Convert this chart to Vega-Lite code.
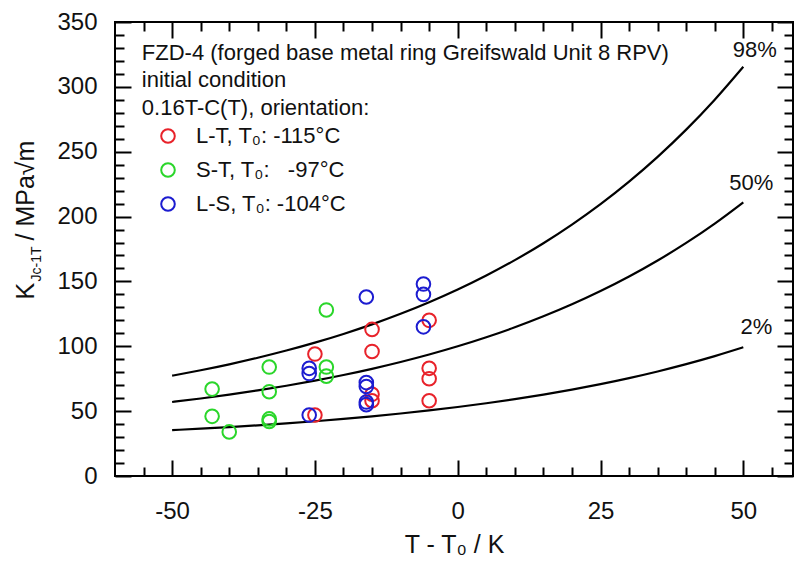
{
  "$schema": "https://vega.github.io/schema/vega-lite/v6.json",
  "width": 678,
  "height": 454,
  "autosize": {"type": "none"},
  "padding": {"left": 115, "top": 22, "right": 1, "bottom": 89},
  "background": "white",
  "config": {
    "view": {"stroke": "black", "strokeWidth": 2},
    "font": "Liberation Sans",
    "axis": {
      "grid": false,
      "domain": false,
      "tickColor": "black",
      "tickWidth": 2,
      "labelFont": "Liberation Sans",
      "labelFontSize": 24,
      "labelColor": "#111",
      "titleFont": "Liberation Sans",
      "titleFontWeight": "normal",
      "titleColor": "#111"
    }
  },
  "datasets": {
    "curves": [
      {"T": -50, "K": 35.37, "p": "2%"}, {"T": -45, "K": 36.49, "p": "2%"}, {"T": -40, "K": 37.72, "p": "2%"}, {"T": -35, "K": 39.08, "p": "2%"}, {"T": -30, "K": 40.56, "p": "2%"}, {"T": -25, "K": 42.2, "p": "2%"}, {"T": -20, "K": 44.0, "p": "2%"}, {"T": -15, "K": 45.98, "p": "2%"}, {"T": -10, "K": 48.16, "p": "2%"}, {"T": -5, "K": 50.55, "p": "2%"}, {"T": 0, "K": 53.18, "p": "2%"}, {"T": 5, "K": 56.07, "p": "2%"}, {"T": 10, "K": 59.25, "p": "2%"}, {"T": 15, "K": 62.75, "p": "2%"}, {"T": 20, "K": 66.6, "p": "2%"}, {"T": 25, "K": 70.83, "p": "2%"}, {"T": 30, "K": 75.48, "p": "2%"}, {"T": 35, "K": 80.6, "p": "2%"}, {"T": 40, "K": 86.22, "p": "2%"}, {"T": 45, "K": 92.41, "p": "2%"}, {"T": 50, "K": 99.21, "p": "2%"},
      {"T": -50, "K": 57.07, "p": "50%"}, {"T": -45, "K": 59.77, "p": "50%"}, {"T": -40, "K": 62.74, "p": "50%"}, {"T": -35, "K": 66.0, "p": "50%"}, {"T": -30, "K": 69.59, "p": "50%"}, {"T": -25, "K": 73.53, "p": "50%"}, {"T": -20, "K": 77.87, "p": "50%"}, {"T": -15, "K": 82.64, "p": "50%"}, {"T": -10, "K": 87.89, "p": "50%"}, {"T": -5, "K": 93.66, "p": "50%"}, {"T": 0, "K": 100.0, "p": "50%"}, {"T": 5, "K": 106.98, "p": "50%"}, {"T": 10, "K": 114.64, "p": "50%"}, {"T": 15, "K": 123.09, "p": "50%"}, {"T": 20, "K": 132.36, "p": "50%"}, {"T": 25, "K": 142.56, "p": "50%"}, {"T": 30, "K": 153.78, "p": "50%"}, {"T": 35, "K": 166.12, "p": "50%"}, {"T": 40, "K": 179.68, "p": "50%"}, {"T": 45, "K": 194.6, "p": "50%"}, {"T": 50, "K": 211.0, "p": "50%"},
      {"T": -50, "K": 77.35, "p": "98%"}, {"T": -45, "K": 81.53, "p": "98%"}, {"T": -40, "K": 86.11, "p": "98%"}, {"T": -35, "K": 91.16, "p": "98%"}, {"T": -30, "K": 96.71, "p": "98%"}, {"T": -25, "K": 102.82, "p": "98%"}, {"T": -20, "K": 109.53, "p": "98%"}, {"T": -15, "K": 116.9, "p": "98%"}, {"T": -10, "K": 125.03, "p": "98%"}, {"T": -5, "K": 133.95, "p": "98%"}, {"T": 0, "K": 143.76, "p": "98%"}, {"T": 5, "K": 154.56, "p": "98%"}, {"T": 10, "K": 166.42, "p": "98%"}, {"T": 15, "K": 179.47, "p": "98%"}, {"T": 20, "K": 193.83, "p": "98%"}, {"T": 25, "K": 209.61, "p": "98%"}, {"T": 30, "K": 226.97, "p": "98%"}, {"T": 35, "K": 246.05, "p": "98%"}, {"T": 40, "K": 267.03, "p": "98%"}, {"T": 45, "K": 290.11, "p": "98%"}, {"T": 50, "K": 315.48, "p": "98%"}
    ],
    "points": [
      {"T": -25, "K": 94, "s": "L-T, T₀: -115°C"}, {"T": -25, "K": 47, "s": "L-T, T₀: -115°C"},
      {"T": -15, "K": 113, "s": "L-T, T₀: -115°C"}, {"T": -15, "K": 96, "s": "L-T, T₀: -115°C"},
      {"T": -15, "K": 63, "s": "L-T, T₀: -115°C"}, {"T": -15, "K": 58, "s": "L-T, T₀: -115°C"},
      {"T": -5, "K": 120, "s": "L-T, T₀: -115°C"}, {"T": -5, "K": 83, "s": "L-T, T₀: -115°C"},
      {"T": -5, "K": 75, "s": "L-T, T₀: -115°C"}, {"T": -5, "K": 58, "s": "L-T, T₀: -115°C"},
      {"T": -43, "K": 67, "s": "S-T, T₀:\u00a0\u00a0 -97°C"}, {"T": -43, "K": 46, "s": "S-T, T₀:\u00a0\u00a0 -97°C"},
      {"T": -40, "K": 34, "s": "S-T, T₀:\u00a0\u00a0 -97°C"}, {"T": -33, "K": 84, "s": "S-T, T₀:\u00a0\u00a0 -97°C"},
      {"T": -33, "K": 65, "s": "S-T, T₀:\u00a0\u00a0 -97°C"}, {"T": -33, "K": 44, "s": "S-T, T₀:\u00a0\u00a0 -97°C"},
      {"T": -33, "K": 42, "s": "S-T, T₀:\u00a0\u00a0 -97°C"}, {"T": -23, "K": 128, "s": "S-T, T₀:\u00a0\u00a0 -97°C"},
      {"T": -23, "K": 84, "s": "S-T, T₀:\u00a0\u00a0 -97°C"}, {"T": -23, "K": 77, "s": "S-T, T₀:\u00a0\u00a0 -97°C"},
      {"T": -26, "K": 83, "s": "\u00a0L-S, T₀: -104°C"}, {"T": -26, "K": 79, "s": "\u00a0L-S, T₀: -104°C"},
      {"T": -26, "K": 47, "s": "\u00a0L-S, T₀: -104°C"}, {"T": -16, "K": 138, "s": "\u00a0L-S, T₀: -104°C"},
      {"T": -16, "K": 72, "s": "\u00a0L-S, T₀: -104°C"}, {"T": -16, "K": 69, "s": "\u00a0L-S, T₀: -104°C"},
      {"T": -16, "K": 57, "s": "\u00a0L-S, T₀: -104°C"}, {"T": -16, "K": 55, "s": "\u00a0L-S, T₀: -104°C"},
      {"T": -6, "K": 148, "s": "\u00a0L-S, T₀: -104°C"}, {"T": -6, "K": 140, "s": "\u00a0L-S, T₀: -104°C"},
      {"T": -6, "K": 115, "s": "\u00a0L-S, T₀: -104°C"}
    ],
    "notes": [
      {"T": -55.3, "K": 326, "label": "FZD-4 (forged base metal ring Greifswald Unit 8 RPV)"},
      {"T": -55.3, "K": 305.3, "label": "initial condition"},
      {"T": -55.3, "K": 283.5, "label": "0.16T-C(T), orientation:"}
    ],
    "curvelabels": [
      {"T": 52.0, "K": 328.4, "label": "98%"},
      {"T": 51.4, "K": 225.7, "label": "50%"},
      {"T": 52.3, "K": 115.1, "label": "2%"}
    ]
  },
  "resolve": {"axis": {"x": "independent", "y": "independent"}},
  "layer": [
    {
      "data": {"name": "curves"},
      "mark": {"type": "line", "color": "black", "strokeWidth": 2.2, "interpolate": "monotone"},
      "encoding": {
        "x": {
          "field": "T", "type": "quantitative",
          "scale": {"domain": [-60, 58.7], "nice": false, "zero": false},
          "axis": {
            "orient": "bottom", "values": [-50, -25, 0, 25, 50], "tickSize": -16, "labelPadding": 39,
            "labelExpr": "replace(datum.label, '\u2212', '-')",
            "title": "T - T₀ / K", "titleFontSize": 25, "titleX": 339, "titleY": 76,
            "titleAlign": "center", "titleBaseline": "alphabetic"
          }
        },
        "y": {
          "field": "K", "type": "quantitative",
          "scale": {"domain": [0, 350], "nice": false, "zero": false},
          "axis": {
            "orient": "left", "values": [0, 50, 100, 150, 200, 250, 300, 350], "tickSize": -16, "labelPadding": 34,
            "title": "K", "titleFontSize": 25, "titleAngle": 270, "titleAlign": "left",
            "titleBaseline": "alphabetic", "titleX": -82, "titleY": 277
          }
        },
        "detail": {"field": "p"}
      }
    },
    {
      "data": {"name": "points"},
      "mark": {"type": "point", "shape": "circle", "filled": false, "size": 185, "strokeWidth": 2, "opacity": 1},
      "encoding": {
        "x": {
          "field": "T", "type": "quantitative",
          "scale": {"domain": [-60, 58.7], "nice": false, "zero": false},
          "axis": {
            "orient": "bottom", "values": [-55, -45, -40, -35, -30, -20, -15, -10, -5, 5, 10, 15, 20, 30, 35, 40, 45, 55],
            "tickSize": -9, "labels": false, "title": null
          }
        },
        "y": {
          "field": "K", "type": "quantitative",
          "scale": {"domain": [0, 350], "nice": false, "zero": false},
          "axis": {
            "orient": "left", "values": [10, 20, 30, 40, 60, 70, 80, 90, 110, 120, 130, 140, 160, 170, 180, 190, 210, 220, 230, 240, 260, 270, 280, 290, 310, 320, 330, 340],
            "tickSize": -9, "labels": false,
            "title": "Jc-1T", "titleFontSize": 14, "titleAngle": 270, "titleAlign": "left",
            "titleBaseline": "alphabetic", "titleX": -75, "titleY": 259
          }
        },
        "color": {
          "field": "s", "type": "nominal",
          "scale": {
            "domain": ["L-T, T₀: -115°C", "S-T, T₀:\u00a0\u00a0 -97°C", "\u00a0L-S, T₀: -104°C"],
            "range": ["#e8222a", "#2ad62a", "#1c1cd0"]
          },
          "legend": {
            "orient": "none", "legendX": 42, "legendY": 103, "title": null,
            "labelFont": "Liberation Sans", "labelFontSize": 22, "labelColor": "#111",
            "symbolType": "circle", "symbolSize": 185, "symbolStrokeWidth": 2,
            "rowPadding": 12, "labelOffset": 17, "padding": 0, "labelLimit": 400
          }
        }
      }
    },
    {
      "data": {"name": "notes"},
      "mark": {"type": "text", "align": "left", "baseline": "middle", "fontSize": 22, "font": "Liberation Sans", "color": "#111"},
      "encoding": {
        "x": {
          "field": "T", "type": "quantitative",
          "scale": {"domain": [-60, 58.7], "nice": false, "zero": false},
          "axis": {"orient": "top", "values": [-50, -25, 0, 25, 50], "tickSize": -16, "labels": false, "title": null}
        },
        "y": {
          "field": "K", "type": "quantitative",
          "scale": {"domain": [0, 350], "nice": false, "zero": false},
          "axis": {
            "orient": "right", "values": [0, 50, 100, 150, 200, 250, 300, 350], "tickSize": -16, "labels": false,
            "title": "/ MPa√m", "titleFontSize": 25, "titleAngle": 270, "titleAlign": "left",
            "titleBaseline": "alphabetic", "titleX": -760, "titleY": 218
          }
        },
        "text": {"field": "label"}
      }
    },
    {
      "data": {"name": "curvelabels"},
      "mark": {"type": "text", "align": "center", "baseline": "middle", "fontSize": 22, "font": "Liberation Sans", "color": "#111"},
      "encoding": {
        "x": {
          "field": "T", "type": "quantitative",
          "scale": {"domain": [-60, 58.7], "nice": false, "zero": false},
          "axis": {
            "orient": "top", "values": [-55, -45, -40, -35, -30, -20, -15, -10, -5, 5, 10, 15, 20, 30, 35, 40, 45, 55],
            "tickSize": -9, "labels": false, "title": null
          }
        },
        "y": {
          "field": "K", "type": "quantitative",
          "scale": {"domain": [0, 350], "nice": false, "zero": false},
          "axis": {
            "orient": "right", "values": [10, 20, 30, 40, 60, 70, 80, 90, 110, 120, 130, 140, 160, 170, 180, 190, 210, 220, 230, 240, 260, 270, 280, 290, 310, 320, 330, 340],
            "tickSize": -9, "labels": false, "title": null
          }
        },
        "text": {"field": "label"}
      }
    }
  ]
}
